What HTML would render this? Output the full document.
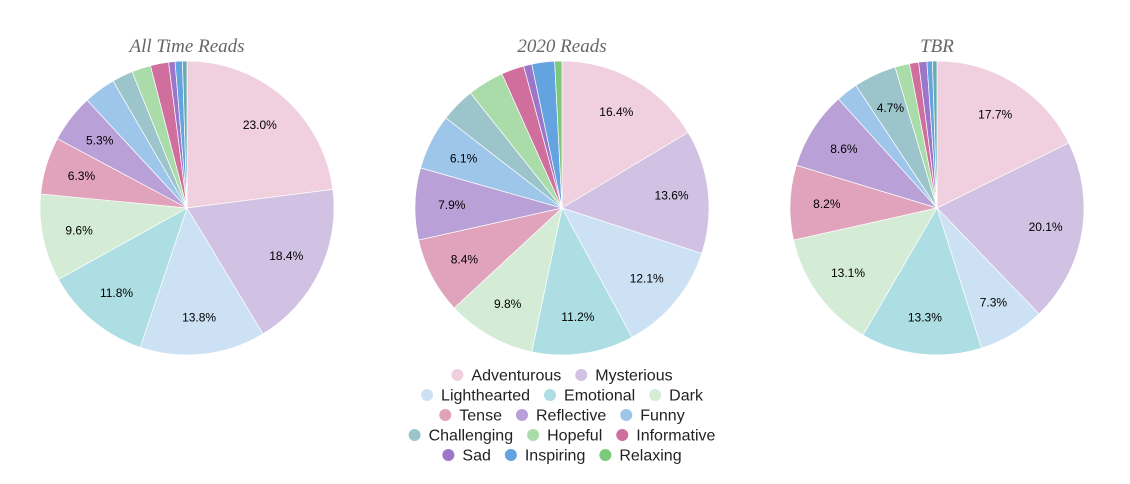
<!DOCTYPE html>
<html><head><meta charset="utf-8"><style>
body{margin:0;background:#fff;width:1130px;height:479px;overflow:hidden;font-family:"Liberation Sans",sans-serif}
</style></head><body>
<svg id="s" width="1130" height="479" xmlns="http://www.w3.org/2000/svg">
<g font-family="Liberation Serif" font-style="italic" font-size="19" fill="#666" text-anchor="middle">
<text x="187" y="52">All Time Reads</text>
<text x="562" y="52">2020 Reads</text>
<text x="937" y="52">TBR</text>
</g>
</svg>
<script>
const C=["#f0cfdf","#d1c1e3","#cce1f4","#addee3","#d4ecd5","#e0a3bb","#b9a0d6","#9dc6ea","#9cc5cb","#aadcaa","#d06f9e","#9b76c9","#62a3e0","#7cc97c","#6aabb0"];
const D=[
[23,18.4,13.8,11.8,9.6,6.3,5.3,3.5,2.3,2.1,2.0,0.7,0.8,0,0.5],
[16.4,13.6,12.1,11.2,9.8,8.4,7.9,6.1,3.8,4.0,2.5,0.9,2.5,0.8,0],
[17.7,20.1,7.3,13.3,13.1,8.2,8.6,2.4,4.7,1.6,1.0,0.9,0.6,0,0.5]];
const cx=[187,562,937],cy=208,r=147;let h="";
D.forEach((d,i)=>{const t=d.reduce((a,b)=>a+b,0);let a=0;d.forEach((v,j)=>{if(!v)return;const a0=a/t*2*Math.PI,a1=(a+v)/t*2*Math.PI;a+=v;
const p=(q,rr)=>[cx[i]+rr*Math.sin(q),cy-rr*Math.cos(q)];const [x0,y0]=p(a0,r),[x1,y1]=p(a1,r);
h+=`<path d="M${cx[i]},${cy}L${x0},${y0}A${r},${r} 0 ${a1-a0>Math.PI?1:0} 1 ${x1},${y1}Z" fill="${C[j]}" stroke="#fff" stroke-width="0.7"/>`;
if(v>=4.5){const [lx,ly]=p((a0+a1)/2,r*0.75);h+=`<text x="${lx}" y="${ly+4}" font-size="12" text-anchor="middle" fill="#000">${v.toFixed(1)}%</text>`;}});});
const L=[[["Adventurous",0],["Mysterious",1]],[["Lighthearted",2],["Emotional",3],["Dark",4]],[["Tense",5],["Reflective",6],["Funny",7]],[["Challenging",8],["Hopeful",9],["Informative",10]],[["Sad",11],["Inspiring",12],["Relaxing",13]]];
const cv=document.createElement("canvas").getContext("2d");cv.font="16px Liberation Sans";
L.forEach((row,k)=>{const y=375+k*20;const ws=row.map(e=>20+cv.measureText(e[0]).width);const tw=ws.reduce((a,b)=>a+b,0)+(row.length-1)*14;let x=562-tw/2;
row.forEach((e,m)=>{h+=`<circle cx="${x+6}" cy="${y}" r="6" fill="${C[e[1]]}"/><text x="${x+20}" y="${y+5.5}" font-size="16" fill="#222">${e[0]}</text>`;x+=ws[m]+14;});});
document.getElementById("s").insertAdjacentHTML("beforeend",h);
</script>
</body></html>
